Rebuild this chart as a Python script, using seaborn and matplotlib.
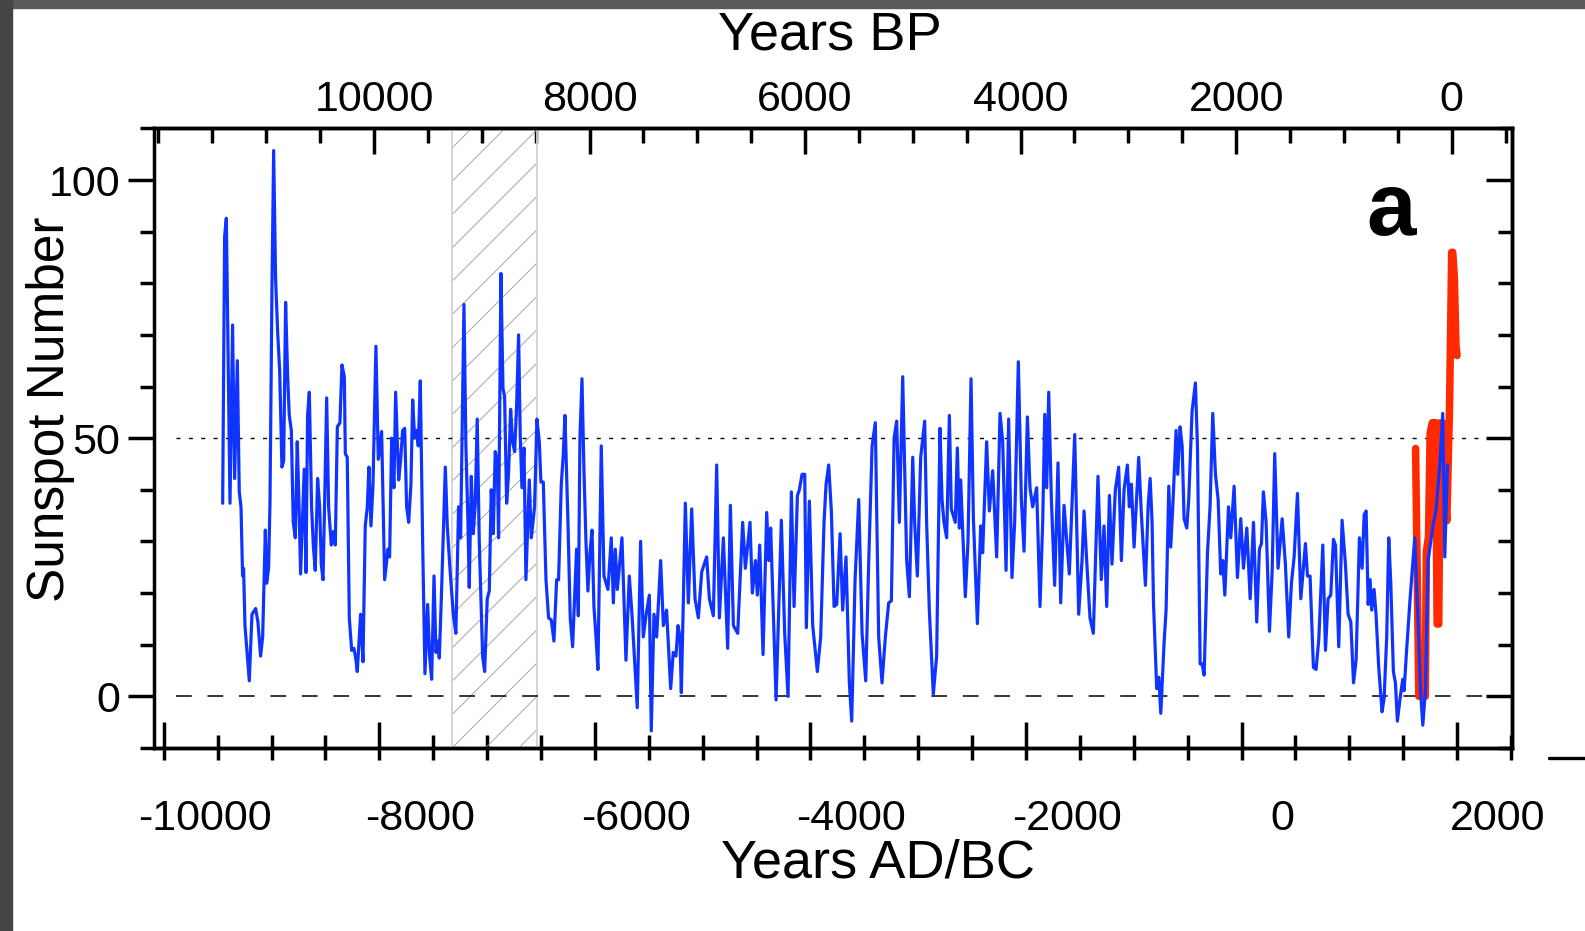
import matplotlib.pyplot as plt
import matplotlib.transforms as mtransforms
from matplotlib.ticker import FixedLocator, MultipleLocator
from matplotlib.patches import Rectangle
from matplotlib.lines import Line2D
import seaborn as sns

# Reconstructed sunspot number (blue), years AD (negative = BC)
blue_year = [
    # -9500 .. -7400
    -9454, -9436, -9420, -9386, -9362, -9343, -9318, -9300, -9284, -9269,
    -9260, -9247, -9207, -9182, -9148, -9127, -9102, -9083, -9058, -9046,
    -9028, -9015, -8997, -8981, -8963, -8944, -8925, -8904, -8888, -8870,
    -8851, -8836, -8817, -8799, -8780, -8762, -8746, -8731, -8697, -8681,
    -8666, -8650, -8629, -8613, -8595, -8573, -8554, -8539, -8523, -8508,
    -8489, -8471, -8446, -8427, -8409, -8390, -8366, -8347, -8325, -8316,
    -8298, -8279, -8257, -8236, -8217, -8205, -8174, -8152, -8131, -8112,
    -8097, -8078, -8059, -8032, -8010, -7979, -7951, -7920, -7905, -7886,
    -7865, -7849, -7821, -7803, -7784, -7765, -7747, -7728, -7707, -7691,
    -7673, -7654, -7639, -7620, -7598, -7577, -7552, -7534, -7515, -7493,
    -7475, -7456, -7444, -7425, -7388,
    # -7400 .. -5200
    -7370, -7345, -7314, -7290, -7265, -7246, -7215, -7197, -7178, -7166,
    -7147, -7129, -7110, -7092, -7073, -7058, -7042, -7023, -6999, -6980,
    -6962, -6943, -6925, -6906, -6894, -6872, -6853, -6838, -6819, -6801,
    -6782, -6764, -6745, -6727, -6708, -6693, -6677, -6658, -6640, -6609,
    -6590, -6560, -6538, -6516, -6501, -6479, -6454, -6430, -6405, -6380,
    -6355, -6337, -6312, -6293, -6278, -6250, -6229, -6207, -6185, -6170,
    -6154, -6139, -6120, -6102, -6083, -6065, -6046, -6027, -6009, -5990,
    -5972, -5941, -5916, -5879, -5848, -5829, -5811, -5792, -5749, -5712,
    -5681, -5656, -5607, -5576, -5551, -5526, -5495, -5477, -5452, -5427,
    -5390, -5365, -5335, -5297, -5273, -5248, -5229, -5211,
    # -5200 .. -3140
    -5198, -5179, -5161, -5133, -5102, -5071, -5040, -5009, -4963, -4938,
    -4901, -4870, -4845, -4808, -4768, -4743, -4715, -4675, -4629, -4604,
    -4561, -4539, -4511, -4493, -4471, -4440, -4406, -4387, -4369, -4319,
    -4270, -4239, -4208, -4177, -4152, -4121, -4103, -4078, -4053, -4038,
    -4010, -3979, -3936, -3905, -3874, -3855, -3831, -3806, -3781, -3756,
    -3725, -3701, -3670, -3639, -3617, -3586, -3552, -3521, -3487, -3459,
    -3428, -3398, -3367, -3336, -3305, -3274, -3249, -3224, -3200, -3175,
    -3144,
    # -3130 .. -950
    -3126, -3107, -3082, -3051, -3033, -3008, -2977, -2940, -2922, -2897,
    -2860, -2829, -2798, -2779, -2761, -2736, -2711, -2693, -2656, -2637,
    -2618, -2606, -2563, -2538, -2510, -2488, -2451, -2420, -2402, -2365,
    -2340, -2309, -2272, -2241, -2216, -2185, -2161, -2130, -2105, -2071,
    -2043, -2018, -1987, -1963, -1938, -1901, -1870, -1845, -1826, -1808,
    -1789, -1765, -1734, -1703, -1678, -1647, -1598, -1548, -1511, -1480,
    -1461, -1437, -1406, -1375, -1332, -1301, -1276, -1251, -1226, -1202,
    -1171, -1140, -1115, -1090, -1059, -1041, -1022, -997, -954,
    # -930 .. 1200
    -929, -892, -867, -848, -830, -817, -787, -768, -749, -718,
    -700, -675, -657, -638, -607, -592, -570, -551, -533, -508,
    -490, -459, -428, -409, -384, -366, -347, -316, -292, -267,
    -242, -217, -193, -174, -155, -121, -100, -69, -38, -7,
    18, 49, 80, 111, 141, 166, 185, 203, 228, 259,
    284, 308, 339, 377, 407, 438, 463, 488, 519, 550,
    593, 612, 636, 667, 692, 717, 754, 779, 803, 828,
    853, 872, 902, 933, 964, 989, 1014, 1039, 1063, 1094,
    1119, 1138, 1156, 1175, 1193,
    # 1200 .. 1910
    1208, 1230, 1248, 1273, 1304, 1323, 1347, 1366, 1385, 1409,
    1428, 1446, 1471, 1496, 1508, 1533, 1564, 1607, 1641, 1663,
    1682, 1706, 1731, 1756, 1781, 1805, 1842, 1867, 1886, 1910,
]
blue_ssn = [
    37.4, 89, 92.6, 37.4, 71.9, 42.2, 65, 39.6, 36.7, 23.3,
    24.8, 13.7, 3.0, 15.9, 17.0, 14.4, 7.8, 11.5, 32.2, 21.9,
    24.8, 37.4, 78, 105.7, 81, 70.7, 63, 44.4, 45.6, 76.3,
    61.9, 54.4, 51.5, 33.7, 30.7, 49.3, 37.4, 23.7, 44, 24,
    54.4, 58.9, 36.7, 29.3, 24.4, 42.2, 36.7, 25.6, 22.6, 37.4,
    57.8, 36.7, 29.3, 31.9, 29.3, 52.2, 53, 64.2, 61.9, 47,
    46.3, 15.2, 8.9, 9.3, 7, 4.8, 15.9, 6.7, 33, 36.7,
    44.4, 33, 41.1, 67.8, 45.9, 51.3, 22.6, 28.5, 27, 50,
    40.4, 58.9, 41.9, 45.6, 51.5, 51.9, 36.7, 33.7, 41.1, 57.4,
    50, 51.5, 48.5, 61.1, 29.3, 4.4, 17.8, 7.8, 3.3, 23.3,
    8.5, 10.7, 7.4, 18.9, 44.4,
    33, 24.8, 15.9, 12.2, 36.7, 30.7, 75.9, 48.5, 33.7, 21.1,
    42.6, 31.5, 37.4, 53.7, 30, 18.9, 7.8, 4.8, 18.9, 20.4,
    40, 31.5, 47.4, 45.6, 30.7, 81.9, 59.6, 58.1, 37.4, 43.3,
    55.6, 49.3, 47.4, 55.9, 70, 50.7, 40.4, 48.1, 22.6, 41.9,
    30.7, 36.7, 53.7, 49.3, 41.5, 41.5, 22.6, 15.2, 14.8, 10.7,
    22.6, 22.6, 41.1, 47, 54.4, 33.7, 15.2, 9.6, 21.1, 28.5,
    15.6, 50, 61.5, 44.1, 30, 20.4, 27.8, 32.2, 17.4, 11.5,
    5.2, 48.5, 23.3, 20.7, 30.7, 18.1, 28.5, 20.7, 30.7, 7,
    23.3, 15.9, -2.2, 30, 11.5, 15.6, 19.6, -6.7, 15.9, 11.5,
    26.3, 13.7, 16.7, 1.5, 8.5, 7.8, 13.7, 11.5,
    0.7, 18.9, 37.4, 18.1, 36.3, 18.9, 15.2, 24.1, 27, 18.9,
    15.6, 44.8, 15.2, 30.7, 9.3, 37, 13.7, 12.2, 33.7, 24.8,
    33.7, 20, 26.3, 19.6, 29.3, 8.1, 35.6, 26.3, 32.6, -0.7,
    34.1, 12.2, 0, 39.6, 17.4, 38.9, 40, 43, 43, 13.3,
    37.8, 13.7, 4.8, 11.5, 33.7, 41.1, 44.8, 35.9, 17.4, 17.8,
    31.5, 16.7, 27, 2.6, -4.8, 22.6, 38.1, 12.2, 3, 26.3,
    48.5, 53, 11.5, 2.6, 11.5, 18.1, 18.5, 50, 53.3, 33.7,
    61.9,
    44.8, 26.3, 19.3, 46.3, 33.7, 23.3, 46.3, 53.3, 33.7, 16.7,
    0.4, 7.8, 51.9, 38.1, 33.7, 30.7, 54.4, 36.3, 33.7, 48.1,
    32.6, 41.9, 19.3, 30, 61.5, 34.4, 14.1, 33, 27.8, 49.3,
    35.9, 43.7, 27, 54.8, 49.3, 24.4, 53.7, 23, 33.7, 64.8,
    38.1, 28.1, 54.1, 40.4, 36.7, 40.4, 17.4, 33.7, 54.6, 40.4,
    58.9, 38.5, 21.5, 45.2, 18.1, 37, 23.7, 50.7, 15.9, 26.3,
    35.9, 26.3, 15.2, 12.2, 42.6, 22.6, 33, 17.4, 38.9, 25.6,
    40, 44.4, 26.3, 40, 44.8, 36.7, 41.1, 28.9, 46.3,
    35.2, 21.5, 36.7, 42.2, 33.7, 18.1, 1.5, 3.7, -3.3, 10.7,
    16.7, 40.7, 28.9, 36.7, 51.5, 43, 52.2, 48.5, 34.4, 32.6,
    38.1, 55.2, 60.7, 48.5, 6.3, 6.3, 4.1, 27.8, 36.7, 54.8,
    43, 38.1, 23.7, 26.3, 19.6, 36.7, 30.7, 40.7, 23, 34.4,
    24.8, 32.6, 18.9, 33.7, 14.4, 28.5, 29.6, 39.6, 33.7, 12.6,
    24.1, 47, 24.8, 34.4, 25.6, 11.5, 21.9, 27, 39.3, 18.9,
    29.6, 23.3, 23.3, 5.6, 5.2, 11.1, 29.3, 8.9, 18.9, 19.6,
    30.4, 29.3, 9.6, 34.1, 25.6, 15.9, 14.4, 2.6, 7, 30.7,
    24.8, 35.2, 35.9, 17.8, 22.6,
    16.7, 20.7, 15.9, 5.6, -3, -0.4, 11.5, 30.7, 21.9, 4.8,
    2.6, -4.8, -0.4, 3.3, 1.1, 9.3, 18.9, 30.7, 13, 0.4,
    -5.6, 1.1, 26.3, 30, 33.7, 35.9, 45.6, 54.8, 27, 44.8,
]

# Observed (group) sunspot number, red
red_year = [1615, 1645, 1705, 1715, 1735, 1750, 1770, 1800, 1815, 1830,
            1845, 1865, 1885, 1905, 1930, 1950, 1960, 1975, 1990, 2000]
red_ssn = [48, 0, 0, 28, 31, 51, 53, 53, 14, 14,
           53, 53, 40, 34, 56, 86, 86, 81, 68, 66]

hatch_span = (-7325, -6540)

ad_ticks = [-10000, -8000, -6000, -4000, -2000, 0, 2000]
ad_labels = ["-10000", "-8000", "-6000", "-4000", "-2000", "0", "2000"]
bp_ticks = [10000, 8000, 6000, 4000, 2000, 0]
bp_labels = ["10000", "8000", "6000", "4000", "2000", "0"]
ssn_ticks = [0, 50, 100]

sns.set_theme(style="ticks")
plt.rcParams["font.family"] = ["Liberation Sans", "DejaVu Sans"]
plt.rcParams.update({
    "axes.unicode_minus": False,
    "axes.edgecolor": "black",
    "xtick.color": "black",
    "ytick.color": "black",
    "text.color": "black",
    "hatch.linewidth": 0.6,
})

fig = plt.figure(figsize=(15.85, 9.31), dpi=100)
ax = fig.add_axes([0.0969, 0.1966, 0.8572, 0.6655])

# hatched band: hatch lines + light border
ax.axvspan(*hatch_span, facecolor="none", edgecolor="#9a9a9a", hatch="/",
           linewidth=0, zorder=1)
ax.axvspan(*hatch_span, facecolor="none", edgecolor="#d2d2d2", linewidth=1.3, zorder=1)
ax.axhline(50, 0.0165, 0.98, color="black", lw=1.0, ls=(0, (2.9, 6)), zorder=2)
ax.axhline(0, 0.0165, 0.98, color="black", lw=1.1, ls=(0, (10.3, 10.3)), zorder=2)

sns.lineplot(x=red_year, y=red_ssn, ax=ax, color="#ff2a00", linewidth=5.4,
             estimator=None, zorder=3, solid_capstyle="round", solid_joinstyle="round")
sns.lineplot(x=blue_year, y=blue_ssn, ax=ax, color="#1034ff", linewidth=2.3,
             estimator=None, zorder=4)

ax.set_xlim(-10095, 2512)
ax.set_ylim(-10, 110)
ax.set_xlabel("")
ax.set_ylabel("")

# main axes: inward bottom ticks, outward left ticks
ax.xaxis.set_major_locator(FixedLocator(ad_ticks))
ax.xaxis.set_minor_locator(MultipleLocator(500))
ax.yaxis.set_major_locator(FixedLocator(ssn_ticks))
ax.yaxis.set_minor_locator(MultipleLocator(10))
ax.tick_params(axis="x", which="both", direction="in", bottom=True, top=False,
               labelbottom=False, width=2.5)
ax.tick_params(axis="x", which="major", length=19)
ax.tick_params(axis="x", which="minor", length=9.5)
ax.tick_params(axis="y", which="both", direction="out", left=True, right=False,
               width=2.5, labelsize=31, pad=5)
ax.tick_params(axis="y", which="major", length=19)
ax.tick_params(axis="y", which="minor", length=10)
for s in ax.spines.values():
    s.set_linewidth(2.5)
    s.set_color("black")

# bottom: short outward ticks + (shifted) AD/BC labels
sec_b = ax.secondary_xaxis("bottom")
sec_b.set_xticks(ad_ticks, labels=ad_labels)
sec_b.xaxis.set_minor_locator(MultipleLocator(500))
sec_b.tick_params(which="both", direction="out", length=8.6, width=2.5,
                  labelsize=31, pad=28)
sec_b.spines["bottom"].set_linewidth(2.5)

# top: years BP
sec_t = ax.secondary_xaxis("top", functions=(lambda ad: 1950 - ad, lambda bp: 1950 - bp))
sec_t.set_xticks(bp_ticks, labels=bp_labels)
sec_t.xaxis.set_minor_locator(MultipleLocator(500))
sec_t.tick_params(which="both", direction="in", width=2.5, labelsize=31, pad=6)
sec_t.tick_params(which="major", length=19)
sec_t.tick_params(which="minor", length=10.5)
sec_t.spines["top"].set_linewidth(2.5)

# right: inward ticks only
sec_r = ax.secondary_yaxis("right")
sec_r.set_yticks(ssn_ticks)
sec_r.yaxis.set_minor_locator(MultipleLocator(10))
sec_r.tick_params(which="both", direction="in", width=2.5, labelright=False)
sec_r.tick_params(which="major", length=19)
sec_r.tick_params(which="minor", length=10)
sec_r.spines["right"].set_linewidth(2.5)

offset = mtransforms.ScaledTranslation(0.41, 0, fig.dpi_scale_trans)
for lab in sec_b.get_xticklabels():
    lab.set_transform(lab.get_transform() + offset)

fig.text(829.5 / 1585, 1 - 50 / 931, "Years BP", ha="center", va="baseline", fontsize=39)
fig.text(878 / 1585, 1 - 877 / 931, "Years AD/BC", ha="center", va="baseline", fontsize=39)
fig.text(64 / 1585, 1 - 409 / 931, "Sunspot Number", rotation=90, rotation_mode="anchor",
         ha="center", va="baseline", fontsize=37)
fig.text(1391.5 / 1585, 1 - 235 / 931, "a", ha="center", va="baseline",
         fontsize=64, fontweight="bold")

# dark frame at top and left edges, stray dash at right
fig.add_artist(Rectangle((0, 1 - 7.5 / 931), 1, 7.5 / 931, transform=fig.transFigure,
                         color="#5a5a5a", zorder=10))
fig.add_artist(Rectangle((0, 0), 11.5 / 1585, 1, transform=fig.transFigure,
                         color="#454545", zorder=10))
fig.add_artist(Line2D([1549 / 1585, 1], [1 - 758 / 931] * 2, transform=fig.transFigure,
                      color="black", lw=2.4))

fig.savefig("out.png", dpi=100, facecolor="white")
